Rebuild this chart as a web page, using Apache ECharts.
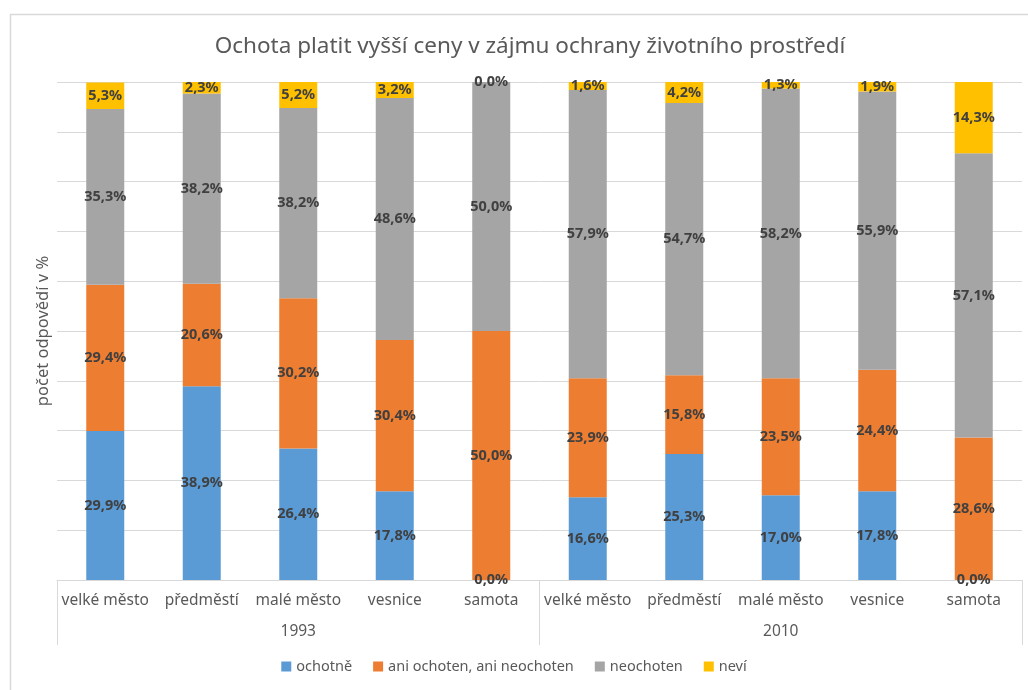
<!DOCTYPE html>
<html>
<head>
<meta charset="utf-8">
<script src="https://cdn.jsdelivr.net/npm/echarts@6/dist/echarts.min.js"></script>
<style>
  html, body { margin: 0; padding: 0; background: #fff; }
  #chart { width: 1028px; height: 690px; }
</style>
</head>
<body>
<div id="chart"></div>
<script>
// kategorie a skupiny
const places = ['velké město','předměstí','malé město','vesnice','samota','velké město','předměstí','malé město','vesnice','samota']
const years = ['1993','2010']

// hodnoty v %
const ochotne   = [29.9, 38.9, 26.4, 17.8, 0.0, 16.6, 25.3, 17.0, 17.8, 0.0]
const aniAni    = [29.4, 20.6, 30.2, 30.4, 50.0, 23.9, 15.8, 23.5, 24.4, 28.6]
const neochoten = [35.3, 38.2, 38.2, 48.6, 50.0, 57.9, 54.7, 58.2, 55.9, 57.1]
const nevi      = [5.3, 2.3, 5.2, 3.2, 0.0, 1.6, 4.2, 1.3, 1.9, 14.3]

const seriesNames = ['ochotně','ani ochoten, ani neochoten','neochoten','neví']
const seriesData = [ochotne, aniAni, neochoten, nevi]
const colors = ['#5B9BD5','#ED7D31','#A5A5A5','#FFC000']

const font = 'Noto Sans, sans-serif'
const tx = '#595959'
const line = '#d9d9d9'

const chart = echarts.init(document.getElementById('chart'))
chart.setOption({
  animation: false,
  textStyle: { fontFamily: font },
  title: {
    text: 'Ochota platit vyšší ceny v zájmu ochrany životního prostředí',
    left: 525, top: 30, textAlign: 'center',
    textStyle: { color: tx, fontSize: 22.5, fontWeight: 'normal', fontFamily: font },
  },
  legend: {
    data: seriesNames, bottom: 11, left: 'center',
    icon: 'rect', itemWidth: 10, itemHeight: 10, itemGap: 21,
    textStyle: { color: tx, fontSize: 14.5, fontFamily: font },
  },
  grid: { left: 57, right: 6, top: 82, bottom: 110 },
  xAxis: [
    {
      type: 'category', data: places,
      axisLine: { lineStyle: { color: line } },
      axisTick: { show: false },
      axisLabel: { color: tx, fontSize: 15.5, margin: 13, interval: 0 },
    },
    {
      type: 'category', data: years, position: 'bottom',
      axisLine: { show: false },
      axisTick: { show: true, length: 65, lineStyle: { color: line } },
      axisLabel: { color: tx, fontSize: 15.5, margin: 44 },
    },
  ],
  yAxis: {
    type: 'value', min: 0, max: 100, interval: 10,
    name: 'počet odpovědí v %', nameLocation: 'middle', nameGap: 5,
    nameTextStyle: { color: tx, fontSize: 16.5, fontFamily: font },
    axisLabel: { show: false },
    axisLine: { show: false }, axisTick: { show: false },
    splitLine: { lineStyle: { color: line } },
  },
  series: seriesData.map((d, i) => ({
    name: seriesNames[i], type: 'bar', stack: 'all', data: d,
    barWidth: 38,
    itemStyle: { color: colors[i] },
    label: {
      show: true, position: 'inside',
      color: '#404040', fontSize: 14.5, fontWeight: 'bold', fontFamily: font,
      formatter: p => p.value.toFixed(1).replace('.', ',') + '%',
    },
  })),
  graphic: [{
    type: 'rect', left: 8, top: 12, z: -1,
    shape: { width: 1100, height: 700 },
    style: { fill: 'none', stroke: line, lineWidth: 1.5 },
  }],
})
</script>
</body>
</html>
